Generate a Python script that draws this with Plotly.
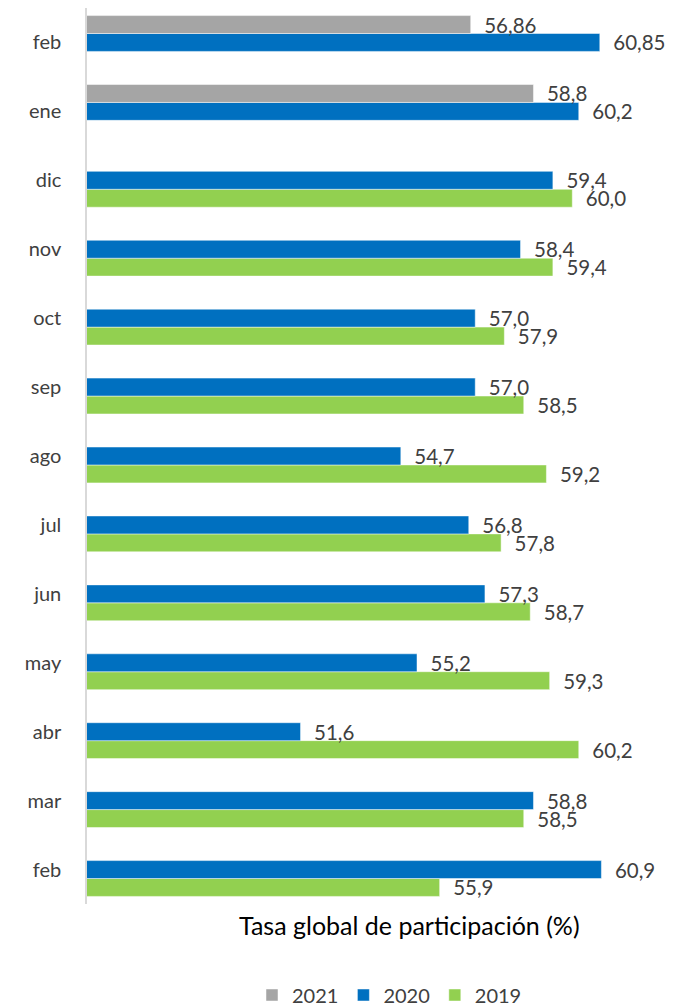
import plotly.graph_objects as go

# Data (bottom to top)
months = ["feb", "mar", "abr", "may", "jun", "jul", "ago", "sep", "oct", "nov", "dic", "ene", "feb"]
periods = ["feb-20", "mar-20", "abr-20", "may-20", "jun-20", "jul-20", "ago-20",
           "sep-20", "oct-20", "nov-20", "dic-20", "ene-21", "feb-21"]
v2019 = [55.9, 58.5, 60.2, 59.3, 58.7, 57.8, 59.2, 58.5, 57.9, 59.4, 60.0, None, None]
v2020 = [60.9, 58.8, 51.6, 55.2, 57.3, 56.8, 54.7, 57.0, 57.0, 58.4, 59.4, 60.2, 60.85]
v2021 = [None, None, None, None, None, None, None, None, None, None, None, 58.8, 56.86]
t2019 = ["55,9", "58,5", "60,2", "59,3", "58,7", "57,8", "59,2", "58,5", "57,9", "59,4", "60,0", "", ""]
t2020 = ["60,9", "58,8", "51,6", "55,2", "57,3", "56,8", "54,7", "57,0", "57,0", "58,4", "59,4", "60,2", "60,85"]
t2021 = ["", "", "", "", "", "", "", "", "", "", "", "58,8", "56,86"]

FONT = "Lato, Roboto, sans-serif"

series = [
    ("2019", v2019, t2019, "#92D050"),
    ("2020", v2020, t2020, "#0070C0"),
    ("2021", v2021, t2021, "#A5A5A5"),
]

fig = go.Figure()
for name, vals, txt, col in series:
    fig.add_trace(go.Bar(
        name=name, y=periods, x=vals, orientation="h",
        marker=dict(color=col, line=dict(color="rgba(255,255,255,0.6)", width=0.8)),
        text=txt, texttemplate="\u00a0\u00a0%{text}", textposition="outside",
        constraintext="none", cliponaxis=False,
        textfont=dict(family=FONT, size=20.5, color="#404040"),
        hoverinfo="x+name",
    ))

fig.update_layout(
    width=666, height=1000,
    margin=dict(l=79, r=37, t=0, b=104, autoexpand=False),
    barmode="group", bargap=0.22, bargroupgap=0,
    plot_bgcolor="white", paper_bgcolor="white",
    font=dict(family=FONT, color="#404040"),
    xaxis=dict(range=[45, 62], visible=False),
    yaxis=dict(type="category", categoryorder="array", categoryarray=periods,
               tickvals=periods, ticktext=months, showline=True, linecolor="#D9D9D9",
               linewidth=1.5, showgrid=False, ticks="", ticklabelstandoff=20,
               tickfont=dict(family=FONT, size=20, color="#404040")),
    legend=dict(orientation="h", traceorder="reversed", x=0.55, xanchor="center",
                xref="paper", y=0.013, yref="container", yanchor="middle",
                font=dict(family=FONT, size=20, color="#404040"), itemwidth=30),
    annotations=[dict(text="Tasa global de participación (%)", xref="paper", yref="paper",
                      x=0.587, y=-0.0234, xanchor="center", yanchor="middle", showarrow=False,
                      font=dict(family=FONT, size=25, color="black"))],
)

fig.write_html("out.html")
